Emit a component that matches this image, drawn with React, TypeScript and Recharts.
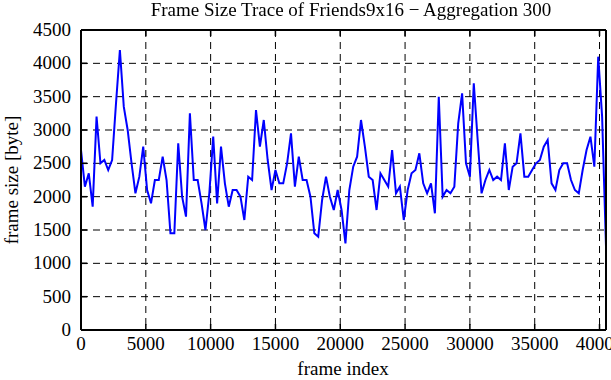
import { LineChart, Line, XAxis, YAxis, CartesianGrid } from 'recharts'

// aggregated frame sizes, one value every 300 frames
const FRAME_STEP = 300
const FRAME_SIZES = [
  2700, 2150, 2350, 1850, 3200, 2500, 2550, 2400, 2550, 3400,
  4200, 3350, 3000, 2500, 2050, 2300, 2750, 2100, 1900, 2250,
  2250, 2600, 2250, 1450, 1450, 2800, 2000, 1700, 3250, 2250,
  2250, 1900, 1500, 2050, 2900, 1900, 2750, 2200, 1850, 2100,
  2100, 2000, 1650, 2300, 2250, 3300, 2750, 3150, 2550, 2100,
  2400, 2200, 2200, 2500, 2950, 2150, 2600, 2250, 2250, 2000,
  1450, 1400, 1950, 2300, 2000, 1800, 2100, 1800, 1300, 2100,
  2450, 2600, 3150, 2750, 2300, 2250, 1800, 2350, 2250, 2150,
  2700, 2050, 2150, 1650, 2100, 2350, 2400, 2650, 2200, 2050,
  2200, 1750, 3500, 2000, 2100, 2050, 2150, 3100, 3550, 2500,
  2300, 3700, 2850, 2050, 2250, 2400, 2250, 2300, 2250, 2800,
  2100, 2450, 2500, 2950, 2300, 2300, 2400, 2500, 2550, 2750,
  2850, 2200, 2100, 2400, 2500, 2500, 2250, 2100, 2050, 2400,
  2700, 2900, 2450, 4100, 3200, 1250,
]

const X_TICKS = [0, 5000, 10000, 15000, 20000, 25000, 30000, 35000, 40000]
const Y_TICKS = [0, 500, 1000, 1500, 2000, 2500, 3000, 3500, 4000, 4500]

const TITLE = 'Frame Size Trace of Friends9x16 \u2212 Aggregation 300'
const X_LABEL = 'frame index'
const Y_LABEL = 'frame size [byte]'

const data = FRAME_SIZES.map((v, i) => ({ frame: i * FRAME_STEP, size: v }))

const FONT = '"Liberation Serif", "DejaVu Serif", serif'
const FS = 19
const TICK_LEN = 6

function BottomTick(props: any) {
  const { x, y, payload } = props
  return (
    <g>
      <line x1={x} y1={y} x2={x} y2={y - TICK_LEN} stroke="#000" strokeWidth={1.5} />
      <text x={x} y={y + 20} textAnchor="middle" fontFamily={FONT} fontSize={FS} fill="#000">
        {payload.value}
      </text>
    </g>
  )
}

function TopTick(props: any) {
  const { x, y } = props
  return <line x1={x} y1={y} x2={x} y2={y + TICK_LEN} stroke="#000" strokeWidth={1.5} />
}

function LeftTick(props: any) {
  const { x, y, payload } = props
  return (
    <g>
      <line x1={x} y1={y} x2={x + TICK_LEN} y2={y} stroke="#000" strokeWidth={1.5} />
      <text x={x - 10} y={y + 6} textAnchor="end" fontFamily={FONT} fontSize={FS} fill="#000">
        {payload.value}
      </text>
    </g>
  )
}

function RightTick(props: any) {
  const { x, y } = props
  return <line x1={x} y1={y} x2={x - TICK_LEN} y2={y} stroke="#000" strokeWidth={1.5} />
}

export default function App() {
  return (
    <div style={{ position: 'fixed', left: 0, top: 0, width: 611, height: 380, background: '#fff' }}>
      <LineChart
        width={611}
        height={380}
        data={data}
        margin={{ top: 29, right: 0, bottom: 0, left: 0 }}
      >
        <CartesianGrid stroke="#000" strokeDasharray="7 5" strokeWidth={1} />
        <XAxis
          dataKey="frame"
          type="number"
          domain={[0, 40500]}
          ticks={X_TICKS}
          interval={0}
          height={50}
          tickSize={0}
          tickMargin={0}
          tickLine={false}
          axisLine={{ stroke: '#000', strokeWidth: 2 }}
          tick={BottomTick}
        />
        <XAxis
          xAxisId="top"
          orientation="top"
          dataKey="frame"
          type="number"
          domain={[0, 40500]}
          ticks={X_TICKS}
          interval={0}
          height={1}
          tickSize={0}
          tickMargin={0}
          tickLine={false}
          axisLine={{ stroke: '#000', strokeWidth: 2 }}
          tick={TopTick}
        />
        <YAxis
          type="number"
          domain={[0, 4500]}
          ticks={Y_TICKS}
          interval={0}
          width={81}
          tickSize={0}
          tickMargin={0}
          tickLine={false}
          axisLine={{ stroke: '#000', strokeWidth: 2 }}
          tick={LeftTick}
        />
        <YAxis
          yAxisId="right"
          orientation="right"
          type="number"
          domain={[0, 4500]}
          ticks={Y_TICKS}
          interval={0}
          width={5}
          tickSize={0}
          tickMargin={0}
          tickLine={false}
          axisLine={{ stroke: '#000', strokeWidth: 2 }}
          tick={RightTick}
        />
        <Line
          type="linear"
          dataKey="size"
          stroke="#0000ff"
          strokeWidth={2}
          dot={false}
          isAnimationActive={false}
        />
      </LineChart>
      <div
        style={{
          position: 'absolute',
          left: 351,
          top: 10,
          transform: 'translate(-50%, -50%)',
          whiteSpace: 'nowrap',
          fontFamily: FONT,
          fontSize: FS,
        }}
      >
        {TITLE}
      </div>
      <div
        style={{
          position: 'absolute',
          left: 343,
          top: 369,
          transform: 'translate(-50%, -50%)',
          whiteSpace: 'nowrap',
          fontFamily: FONT,
          fontSize: FS,
          lineHeight: '20px',
        }}
      >
        {X_LABEL}
      </div>
      <div
        style={{
          position: 'absolute',
          left: 12,
          top: 180,
          transform: 'translate(-50%, -50%) rotate(-90deg)',
          whiteSpace: 'nowrap',
          fontFamily: FONT,
          fontSize: FS,
        }}
      >
        {Y_LABEL}
      </div>
    </div>
  )
}
